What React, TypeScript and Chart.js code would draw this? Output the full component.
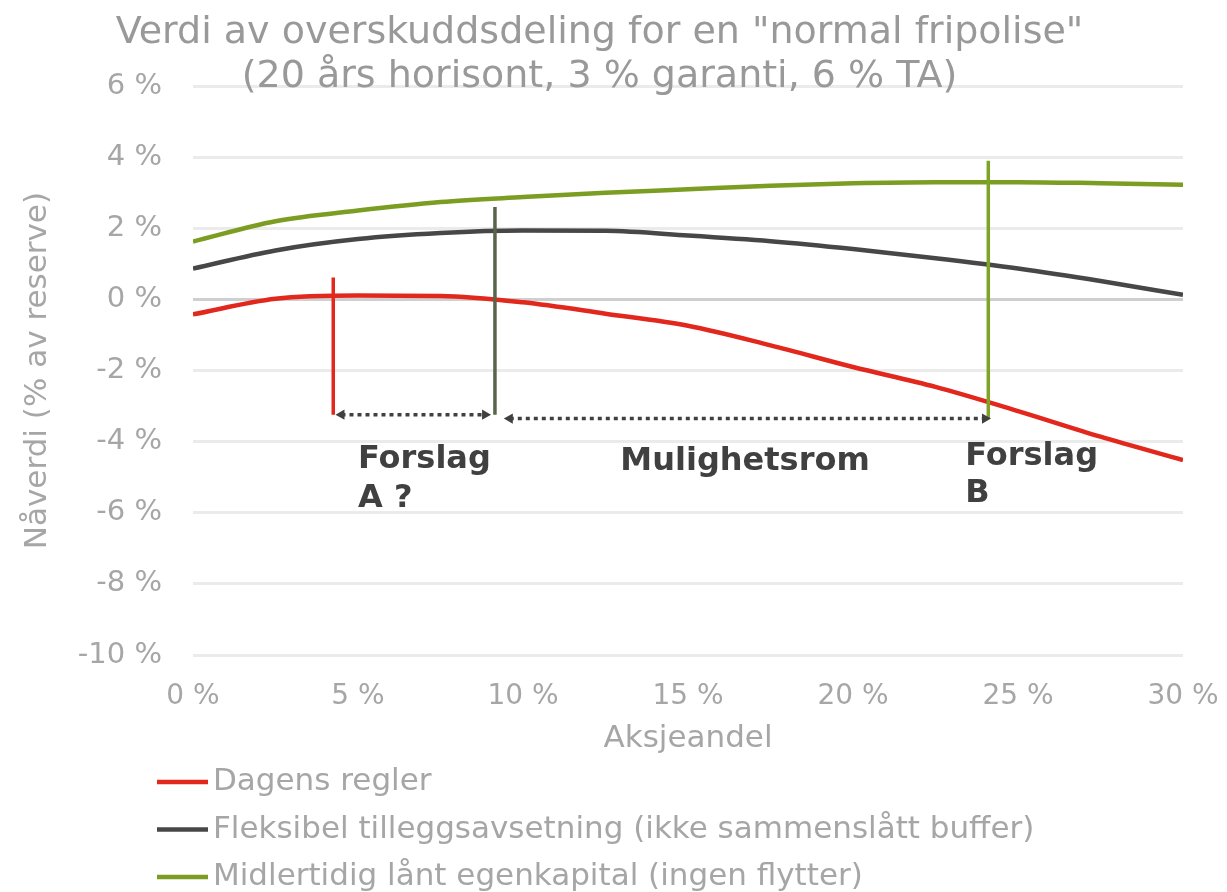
import { useEffect, useRef } from "react";
import { Chart, registerables } from "chart.js";

Chart.register(...registerables);

// ---- Data ----
const titleLines = ['Verdi av overskuddsdeling for en "normal fripolise"', "(20 års horisont, 3 % garanti, 6 % TA)"];
const xAxisTitle = "Aksjeandel";
const yAxisTitle = "Nåverdi (% av reserve)";

const aksjeandel = [0, 2.5, 5, 7.5, 10, 12.5, 15, 17.5, 20, 22.5, 25, 27.5, 30];
const dagensRegler = [-0.42, 0.02, 0.11, 0.1, -0.08, -0.4, -0.74, -1.29, -1.9, -2.46, -3.14, -3.86, -4.52];
const fleksibel = [0.87, 1.38, 1.7, 1.87, 1.94, 1.93, 1.8, 1.64, 1.42, 1.16, 0.87, 0.52, 0.13];
const midlertidig = [1.63, 2.2, 2.5, 2.74, 2.88, 3.0, 3.1, 3.2, 3.27, 3.3, 3.3, 3.27, 3.23];
const seriesLabels = [
  "Dagens regler",
  "Fleksibel tilleggsavsetning (ikke sammenslått buffer)",
  "Midlertidig lånt egenkapital (ingen flytter)",
];

const yMin = -10;
const yMax = 6;
const yStep = 2;
const xMin = 0;
const xMax = 30;
const xStep = 5;

// vertical marker lines (x position, y from/to)
const markerX = [4.25, 9.15, 24.1];
const markerTop = [0.62, 2.6, 3.9];
const markerBottom = [-3.24, -3.24, -3.35];

// dotted arrows (x start/end, y level)
const arrowStartX = [4.5, 9.6];
const arrowEndX = [8.85, 24.0];
const arrowY = [-3.24, -3.35];

// annotation texts
const annotationTexts = ["Forslag", "A ?", "Mulighetsrom", "Forslag", "B"];
const annotationX = [5.0, 5.0, 12.95, 23.4, 23.4];
const annotationY = [-4.5, -5.6, -4.56, -4.42, -5.46];

// ---- Styles ----
const seriesColors = ["#e2271d", "#474747", "#7b9d22"];
const markerColors = ["#e2271d", "#56654c", "#7fa229"];
const FONT = '"DejaVu Sans", Verdana, sans-serif';
const GRAY_TEXT = "#a6a6a6";

const annotationPlugin = {
  id: "annotationTexts",
  afterDatasetsDraw(chart: any) {
    const { ctx, scales } = chart;
    const x = scales.x;
    const y = scales.y;
    ctx.save();
    ctx.font = `bold 32px ${FONT}`;
    ctx.fillStyle = "#404040";
    ctx.textAlign = "left";
    ctx.textBaseline = "middle";
    annotationTexts.forEach((t, i) => {
      ctx.fillText(t, x.getPixelForValue(annotationX[i]), y.getPixelForValue(annotationY[i]));
    });
    ctx.restore();
  },
};

const verticalLegendPlugin = {
  id: "verticalLegend",
  afterDraw(chart: any) {
    const { ctx } = chart;
    const items = chart.data.datasets.filter((d: any) => d.inLegend);
    ctx.save();
    ctx.font = `31px ${FONT}`;
    ctx.textAlign = "left";
    ctx.textBaseline = "middle";
    items.forEach((d: any, i: number) => {
      const cy = 782 + i * 47.5;
      ctx.strokeStyle = d.borderColor;
      ctx.lineWidth = 4.5;
      ctx.beginPath();
      ctx.moveTo(157, cy);
      ctx.lineTo(208, cy);
      ctx.stroke();
      ctx.fillStyle = GRAY_TEXT;
      ctx.fillText(d.label, 213, cy);
    });
    ctx.restore();
  },
};

export default function App() {
  const canvasRef = useRef<HTMLCanvasElement | null>(null);

  useEffect(() => {
    document.body.style.margin = "0";
    const canvas = canvasRef.current;
    if (!canvas) return;

    const series = [dagensRegler, fleksibel, midlertidig].map((vals, i) => ({
      label: seriesLabels[i],
      inLegend: true,
      data: aksjeandel.map((x, j) => ({ x, y: vals[j] })),
      borderColor: seriesColors[i],
      backgroundColor: seriesColors[i],
      borderWidth: 4.5,
      pointRadius: 0,
      tension: 0.4,
      cubicInterpolationMode: "monotone" as const,
      order: 2,
    }));

    const markers = markerX.map((mx, i) => ({
      label: "marker" + i,
      inLegend: false,
      data: [
        { x: mx, y: markerTop[i] },
        { x: mx, y: markerBottom[i] },
      ],
      borderColor: markerColors[i],
      backgroundColor: markerColors[i],
      borderWidth: 3.5,
      pointRadius: 0,
      tension: 0,
      order: 1,
    }));

    const arrows = arrowStartX.map((sx, i) => ({
      label: "arrow" + i,
      inLegend: false,
      data: [
        { x: sx, y: arrowY[i] },
        { x: arrowEndX[i], y: arrowY[i] },
      ],
      borderColor: "#404040",
      backgroundColor: "#404040",
      borderWidth: 3.5,
      borderDash: [4, 4],
      pointStyle: "triangle",
      pointRadius: 6,
      pointBorderWidth: 0,
      pointRotation: [-90, 90],
      pointBackgroundColor: "#404040",
      tension: 0,
      order: 0,
    }));

    const chart = new Chart(canvas, {
      type: "line",
      data: { datasets: [...series, ...markers, ...arrows] as any },
      options: {
        animation: false,
        responsive: true,
        maintainAspectRatio: false,
        events: [],
        layout: { padding: { left: 16, right: 44, top: 0, bottom: 132 } },
        plugins: {
          legend: { display: false },
          tooltip: { enabled: false },
          title: {
            display: true,
            text: titleLines,
            color: "#999999",
            font: { family: FONT, size: 38, weight: "normal", lineHeight: 1.16 },
            padding: { top: 11, bottom: -13 },
          },
        },
        scales: {
          x: {
            type: "linear",
            min: xMin,
            max: xMax,
            afterFit: (s: any) => {
              s.height = 105;
              s.paddingLeft = 0;
              s.paddingRight = 0;
            },
            ticks: {
              stepSize: xStep,
              color: GRAY_TEXT,
              font: { family: FONT, size: 28 },
              padding: 25,
              callback: (v: any) => `${v} %`,
            },
            grid: { display: false, drawTicks: false },
            border: { display: false },
            title: {
              display: true,
              text: xAxisTitle,
              color: GRAY_TEXT,
              font: { family: FONT, size: 31 },
              padding: { top: 0, bottom: 2 },
            },
          },
          y: {
            type: "linear",
            min: yMin,
            max: yMax,
            afterFit: (s: any) => {
              s.width = 177;
              s.paddingTop = 0;
              s.paddingBottom = 0;
            },
            ticks: {
              stepSize: yStep,
              color: GRAY_TEXT,
              font: { family: FONT, size: 29 },
              padding: 31,
              callback: (v: any) => `${v} %`,
            },
            grid: {
              drawTicks: false,
              lineWidth: 3,
              color: (c: any) => (c.tick && c.tick.value === 0 ? "#cfcfcf" : "#ebebeb"),
            },
            border: { display: false },
            title: {
              display: true,
              text: yAxisTitle,
              color: GRAY_TEXT,
              font: { family: FONT, size: 31 },
              padding: { top: 3, bottom: 0 },
            },
          },
        },
      },
      plugins: [annotationPlugin, verticalLegendPlugin],
    });

    return () => chart.destroy();
  }, []);

  return (
    <div style={{ position: "relative", width: 1227, height: 892 }}>
      <canvas ref={canvasRef} />
    </div>
  );
}
